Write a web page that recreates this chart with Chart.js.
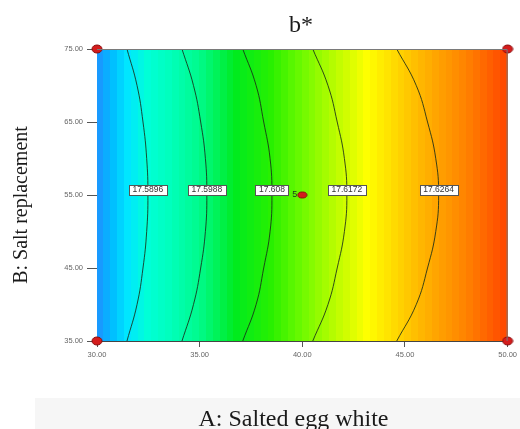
<!DOCTYPE html>
<html>
<head>
<meta charset="utf-8">
<script src="https://cdn.jsdelivr.net/npm/chart.js@4/dist/chart.umd.min.js"></script>
<style>
  html, body { margin: 0; padding: 0; background: #ffffff; }
  #wrap { width: 520px; height: 429px; position: relative; }
</style>
</head>
<body>
<div id="wrap"><canvas id="c" width="520" height="429"></canvas></div>
<script>
// Factor ranges: A = salted egg white, B = salt replacement
const xTicks = [30, 35, 40, 45, 50];
const yTicks = [35, 45, 55, 65, 75];

// Contour levels of predicted b* and the A value where each contour crosses B
const contourLevels = ['17.5896', '17.5988', '17.608', '17.6172', '17.6264'];
const contourB  = [35, 40, 45, 50, 55, 60, 65, 70, 75];
const contourA1 = [31.46, 31.95, 32.24, 32.42, 32.48, 32.42, 32.24, 31.95, 31.46];
const contourA2 = [34.14, 34.70, 35.05, 35.28, 35.35, 35.28, 35.05, 34.70, 34.14];
const contourA3 = [37.10, 37.75, 38.12, 38.43, 38.52, 38.43, 38.12, 37.75, 37.10];
const contourA4 = [40.51, 41.25, 41.70, 42.05, 42.17, 42.05, 41.70, 41.25, 40.51];
const contourA5 = [44.60, 45.55, 46.10, 46.50, 46.64, 46.50, 46.10, 45.55, 44.60];
const contourA = [contourA1, contourA2, contourA3, contourA4, contourA5];

// Design points (factorial corners and the centre point)
const designA = [30, 30, 50, 50, 40];
const designB = [35, 75, 35, 75, 55];
const centreReplicates = 5;

// Colour ramp of the response surface along A
const rampA = [30, 30.8, 31.5, 32.5, 33.5, 35.0, 36.8, 38.5, 40.0, 41.5, 43.2, 44.8, 46.3, 48.0, 50];
const rampRGB = [
  [30, 144, 255], [0, 190, 255], [0, 230, 255], [0, 255, 215], [0, 255, 190],
  [0, 250, 140], [0, 235, 30], [40, 240, 0], [110, 250, 0], [180, 252, 0],
  [255, 255, 0], [255, 210, 0], [255, 170, 0], [255, 130, 0], [255, 70, 0]
];

function rampColour(a) {
  for (let i = 0; i < rampA.length - 1; i++) {
    if (a <= rampA[i + 1]) {
      const t = (a - rampA[i]) / (rampA[i + 1] - rampA[i]);
      const c = rampRGB[i].map((v, k) => Math.round(v + (rampRGB[i + 1][k] - v) * t));
      return 'rgb(' + c.join(',') + ')';
    }
  }
  return 'rgb(' + rampRGB[rampRGB.length - 1].join(',') + ')';
}

function ellipseMarker(w, h) {
  const cv = document.createElement('canvas');
  cv.width = w + 2; cv.height = h + 2;
  const g = cv.getContext('2d');
  g.beginPath();
  g.ellipse((w + 2) / 2, (h + 2) / 2, w / 2, h / 2, 0, 0, Math.PI * 2);
  g.fillStyle = '#d41c1c';
  g.fill();
  g.lineWidth = 1;
  g.strokeStyle = '#8a0c0c';
  g.stroke();
  return cv;
}
const cornerMarker = ellipseMarker(10, 8);
const centreMarker = ellipseMarker(9, 6);

const serif = '"Liberation Serif", "Times New Roman", serif';
const sans = '"Liberation Sans", Arial, sans-serif';

// Stepped colour fill behind the contours, labels and titles
const surfacePlugin = {
  id: 'surface',
  beforeDraw(chart) {
    const ctx = chart.ctx;
    ctx.save();
    ctx.fillStyle = '#f6f6f6';
    ctx.fillRect(35, 398, 485, 31);
    ctx.restore();
  },
  beforeDatasetsDraw(chart) {
    const { ctx, chartArea: ca, scales: { x } } = chart;
    const bands = 60;
    const lo = x.min, hi = x.max, step = (hi - lo) / bands;
    ctx.save();
    for (let i = 0; i < bands; i++) {
      const a0 = lo + i * step, a1 = a0 + step;
      const p0 = Math.floor(x.getPixelForValue(a0));
      const p1 = Math.ceil(x.getPixelForValue(a1));
      ctx.fillStyle = rampColour(a0 + step / 2);
      ctx.fillRect(p0, ca.top, p1 - p0, ca.bottom - ca.top);
    }
    ctx.restore();
  },
  afterDatasetsDraw(chart) {
    const { ctx, chartArea: ca, scales: { x, y } } = chart;
    ctx.save();
    // frame on the top and right edges
    ctx.strokeStyle = '#7a7a7a';
    ctx.lineWidth = 1;
    ctx.beginPath();
    ctx.moveTo(ca.left, ca.top + 0.5);
    ctx.lineTo(ca.right - 0.5, ca.top + 0.5);
    ctx.lineTo(ca.right - 0.5, ca.bottom);
    ctx.stroke();

    // contour value labels at the middle of each contour
    ctx.font = '8.5px ' + sans;
    ctx.textAlign = 'center';
    ctx.textBaseline = 'middle';
    const mid = contourB.indexOf(55);
    contourLevels.forEach((lvl, i) => {
      const px = x.getPixelForValue(contourA[i][mid]);
      const py = y.getPixelForValue(contourB[mid]) - 5.5;
      const w = Math.round(ctx.measureText(lvl).width + 7);
      const h = 10;
      const bx = Math.round(px - w / 2) + 0.5, by = Math.round(py - h / 2) + 0.5;
      ctx.fillStyle = '#ffffff';
      ctx.fillRect(bx, by, w, h);
      ctx.strokeStyle = '#555555';
      ctx.strokeRect(bx, by, w, h);
      ctx.fillStyle = '#333333';
      ctx.fillText(lvl, px, py + 0.5);
    });

    // replicate count beside the centre point
    const ci = designA.length - 1;
    ctx.font = '9px ' + sans;
    ctx.fillStyle = '#1d3a1d';
    ctx.textAlign = 'right';
    ctx.fillText(String(centreReplicates), x.getPixelForValue(designA[ci]) - 5, y.getPixelForValue(designB[ci]) - 0.5);
    ctx.restore();
  },
  afterDraw(chart) {
    const { ctx } = chart;
    ctx.save();
    ctx.fillStyle = '#1a1a1a';
    ctx.textAlign = 'center';
    ctx.textBaseline = 'alphabetic';
    ctx.font = '24px ' + serif;
    ctx.fillText('b*', 301, 32);
    ctx.fillText('A: Salted egg white', 293.5, 426);
    ctx.translate(27, 205);
    ctx.rotate(-Math.PI / 2);
    ctx.font = '20px ' + serif;
    ctx.fillText('B: Salt replacement', 0, 0);
    ctx.restore();
  }
};

const contourSets = contourLevels.map((lvl, i) => ({
  label: lvl,
  data: contourB.map((b, k) => ({ x: contourA[i][k], y: b })),
  showLine: true,
  tension: 0.45,
  borderColor: 'rgba(25, 45, 25, 0.85)',
  borderWidth: 1,
  pointRadius: 0,
  fill: false,
  order: 2
}));

const designSet = {
  label: 'Design points',
  data: designA.map((a, k) => ({ x: a, y: designB[k] })),
  pointStyle: ctx => (ctx.dataIndex === designA.length - 1 ? centreMarker : cornerMarker),
  pointRadius: 5,
  showLine: false,
  clip: false,
  order: 1
};

new Chart(document.getElementById('c'), {
  type: 'scatter',
  data: { datasets: [...contourSets, designSet] },
  options: {
    responsive: false,
    animation: false,
    devicePixelRatio: 1,
    layout: { padding: { top: 49, right: 12, left: 0, bottom: 0 } },
    plugins: { legend: { display: false }, tooltip: { enabled: false }, title: { display: false } },
    scales: {
      x: {
        type: 'linear',
        position: 'bottom',
        min: xTicks[0],
        max: xTicks[xTicks.length - 1],
        afterBuildTicks: s => { s.ticks = xTicks.map(v => ({ value: v })); },
        ticks: {
          callback: v => Number(v).toFixed(2),
          font: { size: 7.5, family: sans },
          color: '#666666',
          padding: 3,
          maxRotation: 0,
          autoSkip: false
        },
        grid: { drawOnChartArea: false, drawTicks: true, tickLength: 6, color: '#555555' },
        border: { color: '#444444', width: 1 },
        afterFit: s => { s.height = 88; }
      },
      y: {
        type: 'linear',
        position: 'left',
        min: yTicks[0],
        max: yTicks[yTicks.length - 1],
        afterBuildTicks: s => { s.ticks = yTicks.map(v => ({ value: v })); },
        ticks: {
          callback: v => Number(v).toFixed(2),
          font: { size: 7.5, family: sans },
          color: '#666666',
          padding: 4,
          autoSkip: false
        },
        grid: { drawOnChartArea: false, drawTicks: true, tickLength: 10, color: '#555555' },
        border: { color: '#444444', width: 1 },
        afterFit: s => { s.width = 97; }
      }
    }
  },
  plugins: [surfacePlugin]
});
</script>
</body>
</html>
